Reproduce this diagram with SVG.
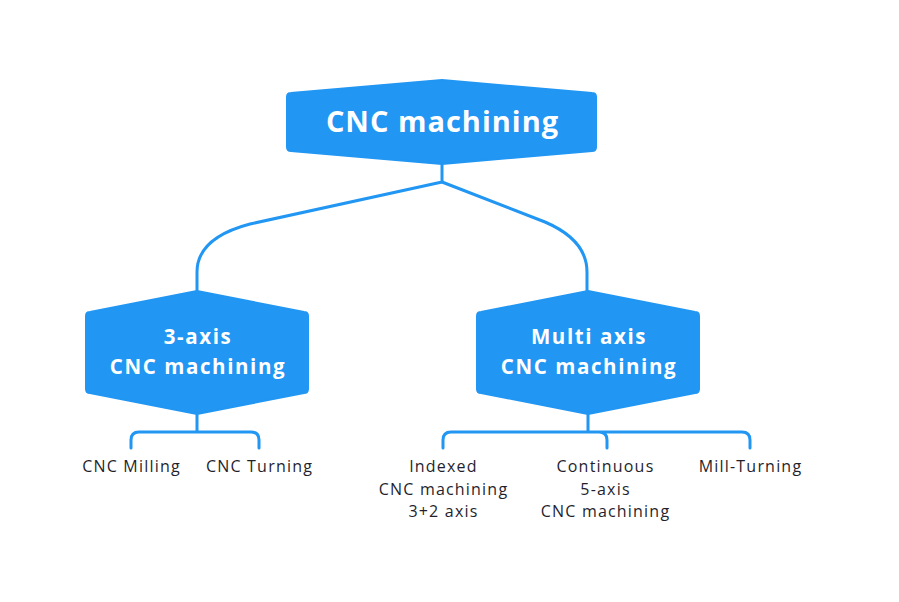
<svg xmlns="http://www.w3.org/2000/svg" width="899" height="602" viewBox="0 0 899 602">
<style>
.node{fill:#2196F3;stroke:#2196F3;stroke-width:2;stroke-linejoin:round}
.conn{fill:none;stroke:#2196F3;stroke-width:3;stroke-linecap:round;stroke-linejoin:round}
.title{font-family:"Open Sans","Noto Sans",sans-serif;font-weight:bold;fill:#ffffff;text-anchor:middle}
.leaf{font-family:"Open Sans","Noto Sans",sans-serif;font-size:16px;letter-spacing:1.2px;fill:#1f1f2e;text-anchor:middle}
</style>
<rect width="899" height="602" fill="#ffffff"/>
<g id="connectors">
<path class="conn" d="M442,164 V182 L250,224 Q197,238 197,272 V292"/>
<path class="conn" d="M442,182 L545,222 Q587,240 587,272 V292"/>
<path class="conn" d="M197,414 V432 M131,448 V440 Q131,432 139,432 H251 Q259,432 259,440 V448"/>
<path class="conn" d="M588,414 V432 M443,448 V440 Q443,432 451,432 H742 Q750,432 750,440 V448 M599,432 Q607,432 607,440 V448"/>
</g>
<g id="root">
<path class="node" d="M291,93 L442,80 L592,93 Q596,93 596,97 V147 Q596,151 592,151 L442,164 L291,151 Q287,151 287,147 V97 Q287,93 291,93 Z"/>
<text class="title" x="442.5" y="132" font-size="29" letter-spacing="1">CNC machining</text>
</g>
<g id="node-3axis">
<path class="node" d="M90,312 L197,291 L304,312 Q308,312 308,316 V389 Q308,393 304,393 L197,414 L90,393 Q86,393 86,389 V316 Q86,312 90,312 Z"/>
<text class="title" x="198" y="344" font-size="20.5" letter-spacing="1.6">3-axis</text>
<text class="title" x="198" y="374" font-size="20.5" letter-spacing="1.6">CNC machining</text>
</g>
<g id="node-multi">
<path class="node" d="M481,312 L588,291 L695,312 Q699,312 699,316 V389 Q699,393 695,393 L588,414 L481,393 Q477,393 477,389 V316 Q477,312 481,312 Z"/>
<text class="title" x="589" y="344" font-size="20.5" letter-spacing="1.6">Multi axis</text>
<text class="title" x="589" y="374" font-size="20.5" letter-spacing="1.6">CNC machining</text>
</g>
<g id="leaf-milling"><text class="leaf" x="131.5" y="472">CNC Milling</text></g>
<g id="leaf-turning"><text class="leaf" x="259.5" y="472">CNC Turning</text></g>
<g id="leaf-indexed"><text class="leaf" x="443.5" y="472">Indexed</text><text class="leaf" x="443.5" y="495">CNC machining</text><text class="leaf" x="443.5" y="517">3+2 axis</text></g>
<g id="leaf-continuous"><text class="leaf" x="605.5" y="472">Continuous</text><text class="leaf" x="605.5" y="495">5-axis</text><text class="leaf" x="605.5" y="517">CNC machining</text></g>
<g id="leaf-millturning"><text class="leaf" x="750.5" y="472">Mill-Turning</text></g>
</svg>
